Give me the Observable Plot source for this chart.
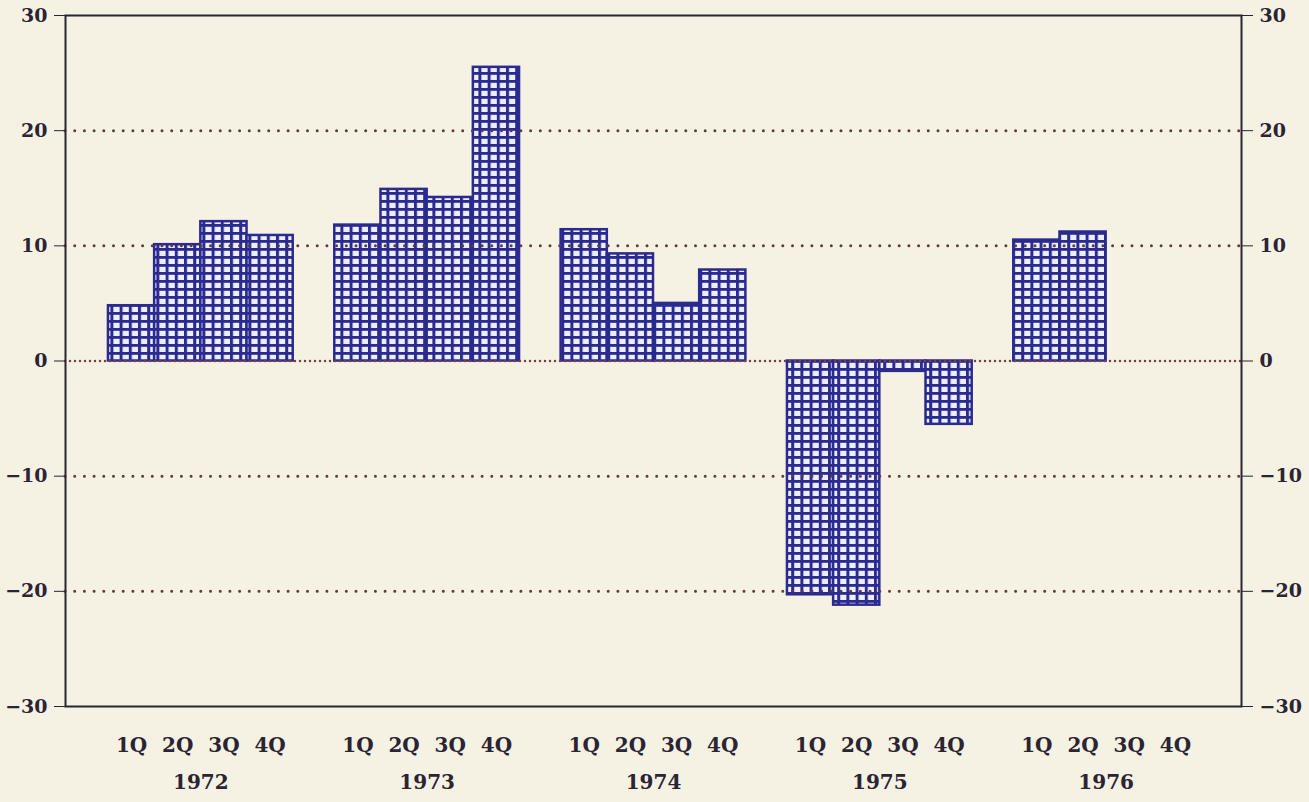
<!DOCTYPE html>
<html>
<head>
<meta charset="utf-8">
<script src="https://cdn.jsdelivr.net/npm/d3@7"></script>
<script src="https://cdn.jsdelivr.net/npm/@observablehq/plot@0.6"></script>
<style>
  html, body { margin: 0; padding: 0; background: #f5f1e3; }
  svg { display: block; }
</style>
</head>
<body>
<div id="chart"></div>
<script>
// ---- data ----
const years = ["1972", "1973", "1974", "1975", "1976"];
const quarters = ["1Q", "2Q", "3Q", "4Q"];
const values1972 = [4.8, 10.1, 12.1, 10.9];
const values1973 = [11.8, 14.9, 14.2, 25.5];
const values1974 = [11.4, 9.3, 5.0, 7.9];
const values1975 = [-20.3, -21.2, -0.9, -5.5];
const values1976 = [10.5, 11.2, null, null];
const yTicks = [-30, -20, -10, 0, 10, 20, 30];
const gridValues = [-20, -10, 10, 20];
const zeroValue = [0];

// ---- layout (positions derived from index) ----
const series = [values1972, values1973, values1974, values1975, values1976];
const STEP = 4.9;   // group step in bar units
const PAD = 0.93;   // outer padding in bar units
const slots = years.flatMap((yr, g) => quarters.map((q, i) => ({
  year: yr, quarter: q, value: series[g][i],
  x1: g * STEP + i, x2: g * STEP + i + 1, cx: g * STEP + i + 0.5
})));
const groups = years.map((yr, g) => ({year: yr, cx: g * STEP + 2}));

const navy = "#2b2a8e";
const ink = "#2a2433";
const dotColor = "#5e3b40";
const font = "'DejaVu Serif', serif";

const chart = Plot.plot({
  width: 1309,
  height: 802,
  marginLeft: 65,
  marginRight: 68,
  marginTop: 15,
  marginBottom: 96,
  style: {background: "#f5f1e3", color: ink, fontFamily: font, fontSize: "19px", fontWeight: "bold"},
  x: {domain: [-PAD, 4 * STEP + 4 + PAD], axis: null},
  y: {domain: [-30, 30], ticks: yTicks, tickSize: 11, tickPadding: 7, axis: "both", label: null, grid: false},
  marks: [
    Plot.rect(slots.filter(d => d.value != null), {
      x1: "x1", x2: "x2", y1: d => 0, y2: "value",
      fill: "url(#qgrid)", stroke: navy, strokeWidth: 2.5
    }),
    Plot.ruleY(gridValues, {stroke: dotColor, strokeWidth: 3, strokeDasharray: "0 9.7", strokeLinecap: "round"}),
    Plot.ruleY(zeroValue, {stroke: "#7a3f45", strokeWidth: 2.5, strokeDasharray: "0 5", strokeLinecap: "round"}),
    Plot.frame({stroke: ink, strokeWidth: 2}),
    Plot.text(slots, {x: "cx", text: "quarter", frameAnchor: "bottom", dy: 45, fontSize: 20, fontWeight: "bold", fill: ink}),
    Plot.text(groups, {x: "cx", text: "year", frameAnchor: "bottom", dy: 82, fontSize: 20, fontWeight: "bold", fill: ink})
  ]
});

const svg = d3.select(chart);
const defs = svg.insert("defs", ":first-child");
const pat = defs.append("pattern")
  .attr("id", "qgrid")
  .attr("patternUnits", "userSpaceOnUse")
  .attr("width", 9.2)
  .attr("height", 8);
pat.append("rect").attr("width", 9.2).attr("height", 8).attr("fill", "#eceffb");
pat.append("rect").attr("x", 0).attr("y", 0).attr("width", 3).attr("height", 8).attr("fill", navy);
pat.append("rect").attr("x", 0).attr("y", 0).attr("width", 9.2).attr("height", 2.8).attr("fill", navy);

document.getElementById("chart").appendChild(chart);
</script>
</body>
</html>
